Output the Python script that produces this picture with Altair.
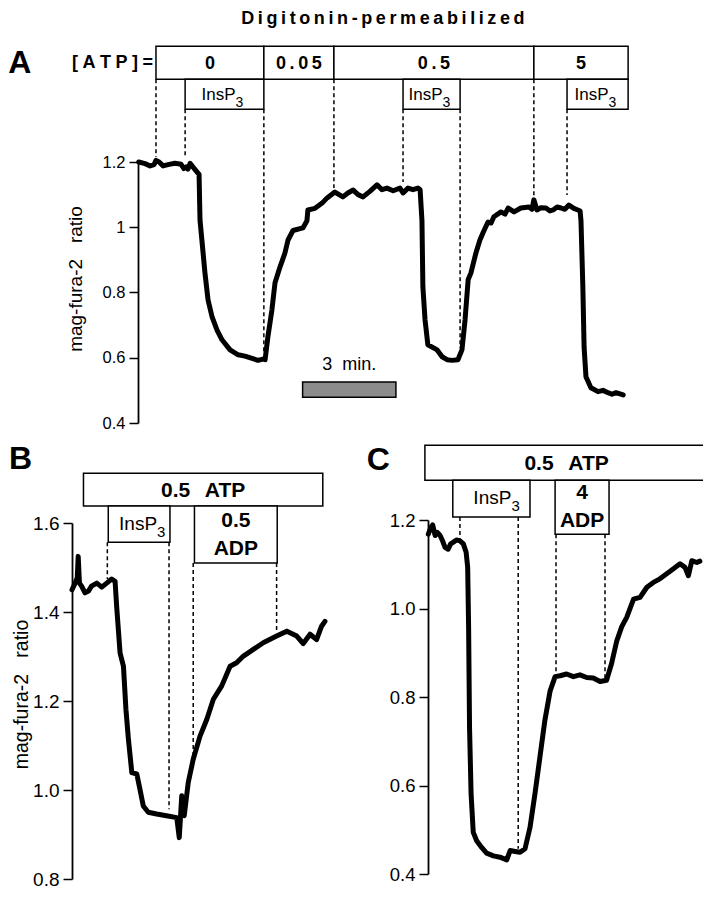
import altair as alt
import pandas as pd

# ------------------------------------------------------------------ data
# Panel A : [ATP] series, time in minutes, mag-fura-2 ratio
A_time = [0.02, 0.23, 0.39, 0.52, 0.58, 0.68, 0.81, 0.97, 1.19, 1.39, 1.48, 1.55, 1.61, 1.68, 1.77,
          1.90, 1.97, 2.00, 2.10, 2.16, 2.26, 2.39, 2.55, 2.71, 2.97, 3.23, 3.45, 3.68, 3.87, 4.03,
          4.10, 4.19, 4.32, 4.42, 4.58, 4.74, 4.84, 5.00, 5.32, 5.45, 5.48, 5.71, 5.94, 6.10, 6.35,
          6.61, 6.77, 6.94, 7.10, 7.26, 7.48, 7.71, 7.87, 8.03, 8.23, 8.45, 8.55, 8.71, 8.87, 9.03,
          9.10, 9.16, 9.19, 9.26, 9.35, 9.65, 9.81, 9.97, 10.13, 10.32, 10.45, 10.55, 10.65, 10.74,
          10.90, 11.03, 11.13, 11.29, 11.39, 11.48, 11.71, 11.84, 11.94, 12.13, 12.35, 12.61, 12.71,
          12.77, 12.87, 13.00, 13.16, 13.29, 13.39, 13.52, 13.65, 13.77, 13.90, 14.06, 14.19, 14.26,
          14.29, 14.35, 14.39, 14.45, 14.61, 14.84, 15.00, 15.16, 15.29, 15.42, 15.65]
A_ratio = [1.200, 1.195, 1.188, 1.192, 1.205, 1.200, 1.188, 1.192, 1.196, 1.193, 1.180, 1.185, 1.178,
           1.196, 1.185, 1.170, 1.162, 1.022, 0.921, 0.860, 0.777, 0.725, 0.685, 0.655, 0.624, 0.609,
           0.605, 0.598, 0.592, 0.596, 0.594, 0.664, 0.747, 0.830, 0.878, 0.921, 0.961, 0.990, 0.998,
           1.020, 1.053, 1.058, 1.074, 1.090, 1.108, 1.093, 1.105, 1.114, 1.100, 1.093, 1.110, 1.130,
           1.115, 1.120, 1.112, 1.120, 1.105, 1.120, 1.115, 1.120, 1.115, 1.020, 0.817, 0.716, 0.640,
           0.624, 0.603, 0.594, 0.592, 0.594, 0.624, 0.716, 0.839, 0.860, 0.921, 0.961, 0.983, 1.016,
           1.013, 1.032, 1.047, 1.040, 1.059, 1.047, 1.059, 1.062, 1.055, 1.084, 1.053, 1.060, 1.059,
           1.050, 1.053, 1.062, 1.059, 1.055, 1.068, 1.058, 1.053, 1.050, 1.020, 0.817, 0.633, 0.542,
           0.508, 0.496, 0.500, 0.493, 0.488, 0.493, 0.486]
A_atp_start = [0.58, 4.06, 6.32, 12.77]
A_atp_end = [4.06, 6.32, 12.77, 15.81]
A_atp_conc = ["0", "0.05", "0.5", "5"]
A_ins_start = [1.52, 8.55, 13.84]
A_ins_end = [4.06, 10.39, 15.81]
A_mark_time = [0.58, 1.52, 4.06, 6.32, 8.55, 10.39, 12.77, 13.84]
A_mark_box = ["atp", "ins", "ins", "atp", "ins", "ins", "atp", "ins"]
A_mark_ratio = [1.215, 1.212, 0.618, 1.120, 1.139, 0.630, 1.093, 1.099]
A_bar = [5.31, 8.32]          # 3 min scale bar

# Panel B : 0.5 ATP, InsP3 then 0.5 ADP
B_time = [0.00, 0.10, 0.17, 0.20, 0.24, 0.31, 0.42, 0.53, 0.63, 0.80, 0.96, 1.12, 1.28, 1.39, 1.44,
          1.55, 1.66, 1.74, 1.82, 1.93, 2.09, 2.19, 2.30, 2.46, 2.73, 3.05, 3.38, 3.46, 3.54, 3.62,
          3.75, 3.91, 4.13, 4.35, 4.56, 4.83, 5.10, 5.31, 5.53, 5.85, 6.17, 6.60, 6.93, 7.25, 7.46,
          7.68, 7.89, 8.05, 8.16]
B_ratio = [1.450, 1.465, 1.477, 1.525, 1.465, 1.458, 1.443, 1.447, 1.458, 1.465, 1.456, 1.465, 1.474,
           1.469, 1.413, 1.308, 1.278, 1.181, 1.114, 1.039, 1.036, 1.002, 0.964, 0.950, 0.946, 0.942,
           0.938, 0.893, 0.987, 0.942, 1.017, 1.069, 1.121, 1.159, 1.204, 1.234, 1.278, 1.286, 1.301,
           1.316, 1.331, 1.346, 1.357, 1.346, 1.329, 1.350, 1.338, 1.368, 1.379]
B_atp = [0.37, 8.09]
B_ins = [1.17, 3.16]
B_adp = [3.95, 6.62]
B_mark_time = [1.14, 3.13, 3.91, 6.60]
B_mark_box = ["ins", "ins", "adp", "adp"]
B_mark_ratio = [1.474, 0.957, 1.070, 1.353]

# Panel C : 0.5 ATP, InsP3 then 4 ADP
C_time = [0.01, 0.09, 0.15, 0.23, 0.30, 0.39, 0.47, 0.55, 0.65, 0.73, 0.82, 0.92, 1.03, 1.14, 1.23,
          1.28, 1.31, 1.34, 1.39, 1.46, 1.57, 1.73, 1.89, 2.11, 2.32, 2.54, 2.65, 2.81, 2.97, 3.13,
          3.29, 3.45, 3.61, 3.77, 3.94, 4.10, 4.26, 4.47, 4.69, 4.90, 5.12, 5.33, 5.55, 5.76, 5.92,
          6.09, 6.25, 6.41, 6.63, 6.84, 7.06, 7.27, 7.48, 7.81, 8.13, 8.29, 8.40, 8.51, 8.67, 8.77]
C_ratio = [1.168, 1.183, 1.189, 1.165, 1.172, 1.165, 1.153, 1.138, 1.134, 1.146, 1.150, 1.155, 1.153,
           1.146, 1.127, 1.093, 0.957, 0.731, 0.581, 0.494, 0.475, 0.460, 0.447, 0.441, 0.438, 0.432,
           0.453, 0.451, 0.449, 0.457, 0.505, 0.581, 0.664, 0.747, 0.814, 0.846, 0.848, 0.852, 0.846,
           0.850, 0.844, 0.843, 0.835, 0.838, 0.875, 0.927, 0.959, 0.980, 1.021, 1.025, 1.048, 1.059,
           1.067, 1.084, 1.101, 1.093, 1.074, 1.108, 1.104, 1.107]
C_atp = [-0.10, 9.04]
C_ins = [0.80, 3.29]
C_adp = [4.10, 5.84]
C_mark_time = [1.03, 2.91, 4.13, 5.71]
C_mark_box = ["ins", "ins", "adp", "adp"]
C_mark_ratio = [1.157, 0.457, 0.852, 0.838]

# ------------------------------------------------------------------ layout
W, H = 695, 883
FONT = "Liberation Sans"
X_DOMAIN = {"A": [0, 16], "B": [0, 8.5], "C": [0, 9.1]}
X_RANGE = {"A": [130, 626], "B": [64, 327.5], "C": [420, 702.1]}
Y_DOMAIN = {"A": [0.4, 1.2], "B": [0.8, 1.6], "C": [0.4, 1.2]}
Y_RANGE = {"A": [415, 154], "B": [871, 515], "C": [866, 512]}
# vertical levels (in ratio units of each panel) of the annotation boxes
LEVEL = {
    "A": {"atp_top": 1.555, "atp_bot": 1.454, "ins_bot": 1.362},
    "B": {"atp_top": 1.712, "atp_bot": 1.638, "ins_bot": 1.557, "adp_bot": 1.510},
    "C": {"atp_top": 1.369, "atp_bot": 1.290, "ins_bot": 1.207, "adp_bot": 1.168},
}
# anchors of free text (time, ratio) in each panel's coordinates
TITLE_AT = (7.90, 1.6227)
LETTER_AT = {"A": (-3.81, 1.4726), "B": (-1.66, 1.7213), "C": (-1.60, 1.313)}
BAR_LEVEL = (0.5253, 0.4793)
BAR_TEXT_Y = 0.561


def sx(p):
    return alt.Scale(domain=X_DOMAIN[p], range=X_RANGE[p], nice=False, zero=False)


def sy(p):
    return alt.Scale(domain=Y_DOMAIN[p], range=Y_RANGE[p], nice=False, zero=False)


def X(f, p):
    return alt.X(f, type="quantitative", scale=sx(p), axis=None)


def Y(f, p, axis=None):
    return alt.Y(f, type="quantitative", scale=sy(p), axis=axis)


def spaced(s, sep="\u2009"):
    return sep.join(list(s))


def text_layer(df, p, size, weight="bold", align="center", dx=0, dy=0, **kw):
    return alt.Chart(df).mark_text(
        font=FONT, fontSize=size, fontWeight=weight, align=align, baseline="alphabetic",
        dx=dx, dy=dy, color="black", **kw
    ).encode(x=X("x:Q", p), y=Y("y:Q", p), text="label:N")


layers = []


def panel(p, times, ratios, axis, atp_rows, sub_rows, marks, label_size, ins_size, ins_dx, ins_sub):
    lv = LEVEL[p]
    # trace
    layers.append(
        alt.Chart(pd.DataFrame({"t": times, "v": ratios}))
        .mark_line(color="black", strokeWidth=5, strokeJoin="round", strokeCap="round")
        .encode(x=X("t:Q", p), y=Y("v:Q", p, axis))
    )
    # boxes
    rows = []
    for s, e, lab in atp_rows:
        rows.append({"x0": s, "x1": e, "top": lv["atp_top"], "bot": lv["atp_bot"], "label": lab, "kind": "atp"})
    for s, e, lab, kind in sub_rows:
        rows.append({"x0": s, "x1": e, "top": lv["atp_bot"], "bot": lv[kind + "_bot"], "label": lab, "kind": kind})
    bdf = pd.DataFrame(rows)
    bdf["x"] = (bdf["x0"] + bdf["x1"]) / 2
    bdf["y"] = (bdf["top"] + bdf["bot"]) / 2
    layers.append(
        alt.Chart(bdf).mark_rect(fill="white", stroke="black", strokeWidth=1.5)
        .encode(x=X("x0:Q", p), x2="x1:Q", y=Y("top:Q", p), y2="bot:Q")
    )
    # dashed markers
    ddf = pd.DataFrame({"t": marks[0], "y0": [lv[b + "_bot"] for b in marks[1]], "y1": marks[2]})
    layers.append(
        alt.Chart(ddf).mark_rule(color="black", strokeWidth=1.5, strokeDash=[4, 3])
        .encode(x=X("t:Q", p), y=Y("y0:Q", p), y2="y1:Q")
    )
    # box labels
    atp_df = bdf[bdf["kind"] == "atp"]
    layers.append(text_layer(atp_df, p, label_size, dy=label_size * 0.36))
    adp_df = bdf[bdf["kind"] == "adp"]
    if len(adp_df):
        layers.append(text_layer(adp_df, p, label_size, dy=-8, lineBreak="\n", lineHeight=28))
    ins_df = bdf[bdf["kind"] == "ins"].copy()
    ins_df["label"] = "InsP"
    layers.append(text_layer(ins_df, p, ins_size, weight="normal", align="right", dx=ins_dx, dy=5.5))
    sub_df = ins_df.copy()
    sub_df["label"] = "3"
    layers.append(text_layer(sub_df, p, ins_sub, weight="normal", align="left", dx=ins_dx, dy=12.5))
    # panel letter
    lx, ly = LETTER_AT[p]
    layers.append(text_layer(pd.DataFrame({"x": [lx], "y": [ly], "label": [p]}), p, 32))


TITLE_TXT = "mag-fura-2\u00a0\u00a0\u00a0ratio"
axisA = alt.Axis(orient="left", offset=-130, values=[0.4, 0.6, 0.8, 1.0, 1.2], format="~g",
                 title=TITLE_TXT, titleFontSize=19, titleY=270.5, titlePadding=17, labelFontSize=16.5)
axisB = alt.Axis(orient="left", offset=-64, values=[0.8, 1.0, 1.2, 1.4, 1.6], format=".1f",
                 title=TITLE_TXT, titleFontSize=19.5, titleY=686, titlePadding=1, labelFontSize=19)
axisC = alt.Axis(orient="left", offset=-420, values=[0.4, 0.6, 0.8, 1.0, 1.2], format=".1f",
                 title=None, labelFontSize=18.5)

panel("A", A_time, A_ratio, axisA,
      [(s, e, spaced(c)) for s, e, c in zip(A_atp_start, A_atp_end, A_atp_conc)],
      [(s, e, "InsP3", "ins") for s, e in zip(A_ins_start, A_ins_end)],
      (A_mark_time, A_mark_box, A_mark_ratio), 18, 17, 11, 14)
panel("B", B_time, B_ratio, axisB,
      [(B_atp[0], B_atp[1], "0.5\u2002\u2009ATP")],
      [(B_ins[0], B_ins[1], "InsP3", "ins"), (B_adp[0], B_adp[1], "0.5\nADP", "adp")],
      (B_mark_time, B_mark_box, B_mark_ratio), 21, 19, 18, 15)
panel("C", C_time, C_ratio, axisC,
      [(C_atp[0], C_atp[1], "0.5\u2002\u2009ATP")],
      [(C_ins[0], C_ins[1], "InsP3", "ins"), (C_adp[0], C_adp[1], "4\nADP", "adp")],
      (C_mark_time, C_mark_box, C_mark_ratio), 21, 19, 20, 15)

# panel A extras: [ATP]= label, title, 3 min scale bar
layers.append(text_layer(pd.DataFrame({"x": [A_atp_start[0]], "y": [1.487], "label": [spaced("[ATP]=", "\u2005")]}),
                         "A", 18, align="right", dx=-3))
layers.append(text_layer(pd.DataFrame({"x": [TITLE_AT[0]], "y": [TITLE_AT[1]],
                                       "label": [spaced("Digitonin-permeabilized")]}), "A", 18))
layers.append(
    alt.Chart(pd.DataFrame({"x0": [A_bar[0]], "x1": [A_bar[1]], "y0": [BAR_LEVEL[0]], "y1": [BAR_LEVEL[1]]}))
    .mark_rect(fill="#8c8c8c", stroke="black", strokeWidth=1.5)
    .encode(x=X("x0:Q", "A"), x2="x1:Q", y=Y("y0:Q", "A"), y2="y1:Q")
)
layers.append(text_layer(pd.DataFrame({"x": [(A_bar[0] + A_bar[1]) / 2], "y": [BAR_TEXT_Y],
                                       "label": ["3\u00a0\u00a0min."]}), "A", 18, weight="normal"))

chart = (
    alt.layer(*layers)
    .resolve_scale(x="independent", y="independent")
    .properties(width=W, height=H, autosize="none", padding=0, background="white")
    .configure_view(strokeWidth=0)
    .configure_axis(
        domainColor="black", domainWidth=1.8, tickColor="black", tickWidth=1.5, tickSize=9,
        labelFont=FONT, labelColor="black", labelPadding=4, grid=False,
        titleFont=FONT, titleColor="black", titleFontWeight="normal", titlePadding=10,
    )
)

chart.save("out.html", embed_options={"renderer": "svg", "actions": False})
